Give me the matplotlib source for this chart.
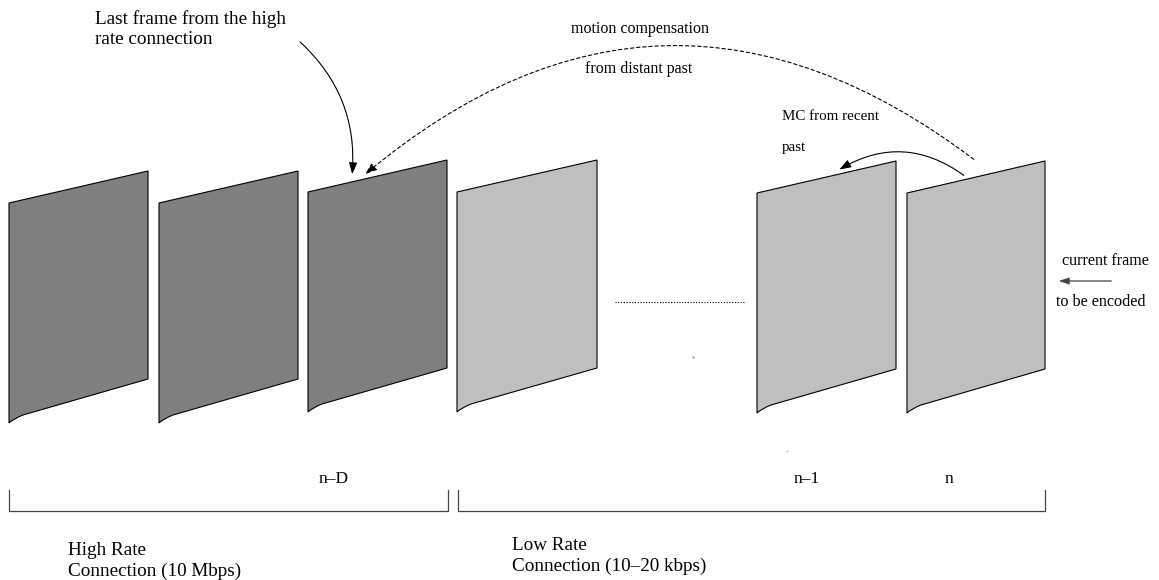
import numpy as np
import matplotlib.pyplot as plt
from matplotlib.path import Path
from matplotlib.patches import PathPatch, FancyArrowPatch

plt.rcParams['font.family'] = ['Liberation Serif', 'DejaVu Serif']

# frames: left x, right x, top of right edge, fill colour
frame_left = [9, 159, 308, 457, 757, 907]
frame_right = [148, 298, 447, 597, 896, 1045]
frame_top = [171, 171, 160, 160, 161, 161]
frame_color = ['#7f7f7f', '#7f7f7f', '#7f7f7f', '#bfbfbf', '#bfbfbf', '#bfbfbf']
frame_h = 208      # height of the right edge
skew = 32          # drop of the top edge from right to left
left_h = 220       # height of the left edge

frame_labels = ['n\u2013D', 'n\u20131', 'n']
label_x = [334, 807, 949]

groups = ['High Rate\nConnection (10 Mbps)', 'Low Rate\nConnection (10\u201320 kbps)']
group_span = [(9, 448), (458, 1045)]
group_text_x = [68, 512]
group_text_y = [561, 556]

fig = plt.figure(figsize=(11.59, 5.80), dpi=100)
ax = fig.add_axes([0, 0, 1, 1])
ax.set_xlim(0, 1159)
ax.set_ylim(580, 0)
ax.axis('off')

for xl, xr, yt, c in zip(frame_left, frame_right, frame_top, frame_color):
    tl = yt + skew
    bl = tl + left_h
    br = yt + frame_h
    verts = [(xl, tl), (xr, yt), (xr, br), (xl + 14, bl - 8), (xl + 4, bl - 4), (xl, bl), (xl, tl)]
    codes = [Path.MOVETO, Path.LINETO, Path.LINETO, Path.LINETO, Path.CURVE3, Path.CURVE3, Path.CLOSEPOLY]
    ax.add_patch(PathPatch(Path(verts, codes), facecolor=c, edgecolor='black', lw=0.8))

# dotted ellipsis between frames
ax.plot([615, 745], [302, 302], color='black', lw=0.8, ls=(0, (1, 1.5)))
ax.plot([693], [357], marker='.', ms=1, color='#888888')
ax.plot([787], [451], marker='.', ms=1, color='#bbbbbb')

# labels under frames
for t, x in zip(frame_labels, label_x):
    ax.text(x, 479, t, ha='center', va='center', fontsize=12.5)

# brackets
for (x0, x1), t, tx, ty in zip(group_span, groups, group_text_x, group_text_y):
    ax.plot([x0, x0, x1, x1], [490, 511, 511, 490], color='#444444', lw=0.9)
    ax.text(tx, ty, t, ha='left', va='center', fontsize=13.8, linespacing=1.3)

# annotations
ax.text(95, 29, 'Last frame from the high\nrate connection', ha='left', va='center',
        fontsize=13.8, linespacing=1.25)
ax.add_patch(FancyArrowPatch((298, 40), (352, 177), connectionstyle='arc3,rad=-0.25',
                             arrowstyle='-|>,head_length=7,head_width=2.5', color='black', lw=0.8))

ax.text(640, 29, 'motion compensation', ha='center', va='center', fontsize=11.5)
ax.text(639, 69, 'from distant past', ha='center', va='center', fontsize=11.5)
ax.add_patch(FancyArrowPatch((976, 161), (363, 176), connectionstyle='arc3,rad=0.4',
                             arrowstyle='-|>,head_length=7,head_width=2.5', color='black',
                             lw=0.8, ls=(0, (3, 2.5))))

ax.text(782, 116, 'MC from recent', ha='left', va='center', fontsize=10.8)
ax.text(782, 147, 'past', ha='left', va='center', fontsize=10.8)
ax.add_patch(FancyArrowPatch((966, 177), (837, 171), connectionstyle='arc3,rad=0.34',
                             arrowstyle='-|>,head_length=7,head_width=2.5', color='black', lw=0.8))

ax.text(1062, 261, 'current frame', ha='left', va='center', fontsize=11.6)
ax.text(1056, 302, 'to be encoded', ha='left', va='center', fontsize=11.6)
ax.add_patch(FancyArrowPatch((1114, 281), (1056, 281), arrowstyle='-|>,head_length=6,head_width=2',
                             color='#444444', lw=0.9))

fig.savefig('out.png', dpi=100)
